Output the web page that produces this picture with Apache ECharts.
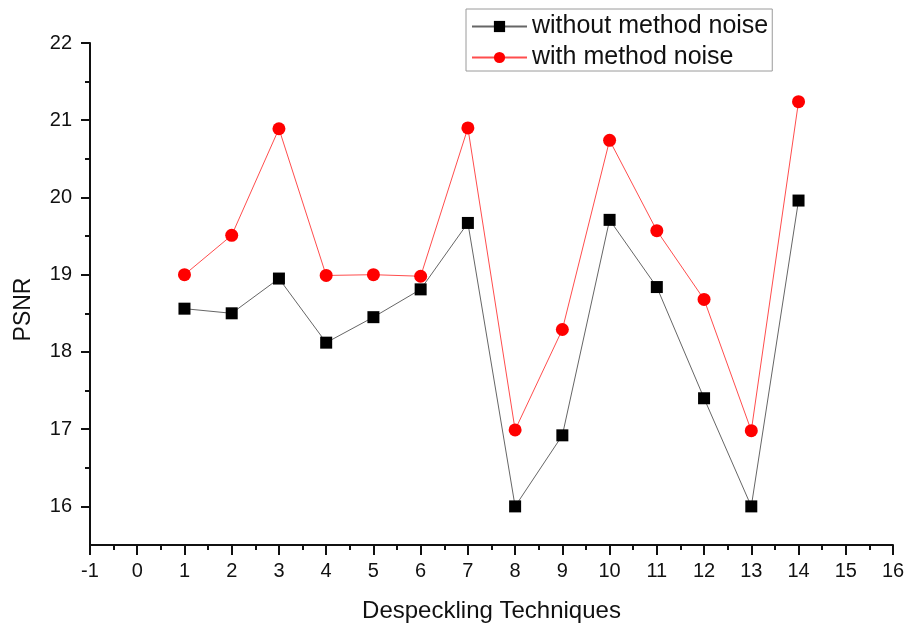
<!DOCTYPE html>
<html>
<head>
<meta charset="utf-8">
<script src="https://cdn.jsdelivr.net/npm/echarts@6/dist/echarts.min.js"></script>
<style>
  html, body { margin: 0; padding: 0; background: #fff; }
  #chart { width: 910px; height: 628px; }
</style>
</head>
<body>
<div id="chart"></div>
<script>
// Technique indices along the x axis
const techniques = [1, 2, 3, 4, 5, 6, 7, 8, 9, 10, 11, 12, 13, 14];

// PSNR values per technique
const withoutMethodNoise = [18.56, 18.50, 18.95, 18.12, 18.45, 18.81, 19.67, 16.00, 16.92, 19.71, 18.84, 17.40, 16.00, 19.96];
const withMethodNoise    = [19.00, 19.51, 20.89, 18.99, 19.00, 18.98, 20.90, 16.99, 18.29, 20.74, 19.57, 18.68, 16.98, 21.24];

// Y axis tick positions
const yMajorTicks = [16, 17, 18, 19, 20, 21, 22];
const yMinorTicks = [16.5, 17.5, 18.5, 19.5, 20.5, 21.5];

const FONT = '"Liberation Sans", Arial, sans-serif';

const pairs = (xs, ys) => xs.map((x, i) => [x, ys[i]]);

const chart = echarts.init(document.getElementById('chart'), null, { renderer: 'canvas' });

const yBase = {
  type: 'value',
  min: 15.5,
  max: 22,
  position: 'left',
  splitLine: { show: false }
};

chart.setOption({
  animation: false,
  backgroundColor: '#ffffff',
  grid: { left: 90, right: 17, top: 43, bottom: 82, containLabel: false },
  legend: {
    orient: 'vertical',
    left: 466,
    top: 9,
    padding: [5, 4, 1, 5],
    itemGap: 6,
    itemWidth: 55,
    itemHeight: 14,
    borderColor: '#9a9a9a',
    borderWidth: 1,
    textStyle: { fontFamily: FONT, fontSize: 25, color: '#111' },
    data: ['without method noise', 'with method noise']
  },
  xAxis: {
    type: 'value',
    min: -1,
    max: 16,
    interval: 1,
    name: 'Despeckling Techniques',
    nameLocation: 'middle',
    nameGap: 54,
    nameTextStyle: { fontFamily: FONT, fontSize: 24, color: '#111' },
    axisLine: { onZero: false, lineStyle: { color: '#111', width: 2 } },
    axisTick: { show: true, inside: false, length: 10, lineStyle: { color: '#111', width: 2 } },
    minorTick: { show: true, splitNumber: 2, length: 5, lineStyle: { color: '#111', width: 2 } },
    axisLabel: { fontFamily: FONT, fontSize: 20, color: '#111', margin: 16 },
    splitLine: { show: false }
  },
  yAxis: [
    Object.assign({}, yBase, {
      name: 'PSNR',
      nameLocation: 'middle',
      nameGap: 55,
      nameRotate: 90,
      nameTextStyle: { fontFamily: FONT, fontSize: 23, color: '#111', padding: [0, 31, 0, 0] },
      axisLine: { show: true, onZero: false, lineStyle: { color: '#111', width: 2 } },
      axisTick: { show: true, inside: false, length: 9, customValues: yMajorTicks, lineStyle: { color: '#111', width: 2 } },
      axisLabel: { fontFamily: FONT, fontSize: 20, color: '#111', margin: 18, customValues: yMajorTicks }
    }),
    Object.assign({}, yBase, {
      axisLine: { show: false, onZero: false },
      axisTick: { show: true, inside: false, length: 5, customValues: yMinorTicks, lineStyle: { color: '#111', width: 2 } },
      axisLabel: { show: false }
    })
  ],
  series: [
    {
      name: 'without method noise',
      type: 'line',
      yAxisIndex: 0,
      data: pairs(techniques, withoutMethodNoise),
      symbol: 'rect',
      symbolSize: 12,
      itemStyle: { color: '#000000' },
      lineStyle: { color: '#666666', width: 1 },
      z: 3
    },
    {
      name: 'with method noise',
      type: 'line',
      yAxisIndex: 0,
      data: pairs(techniques, withMethodNoise),
      symbol: 'circle',
      symbolSize: 13,
      itemStyle: { color: '#ff0000' },
      lineStyle: { color: '#ff4d4d', width: 1 },
      z: 2
    }
  ]
});
</script>
</body>
</html>
